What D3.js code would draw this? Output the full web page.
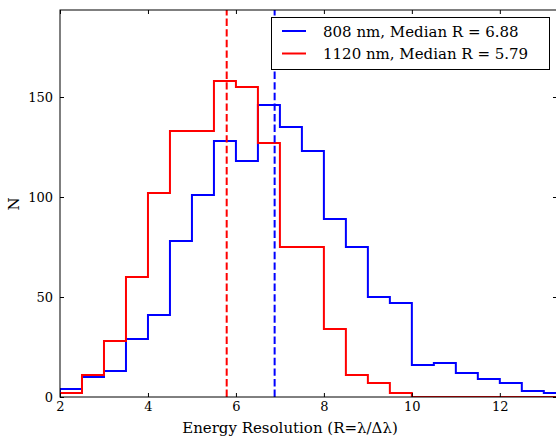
<!DOCTYPE html>
<html><head><meta charset="utf-8">
<script src="https://cdn.jsdelivr.net/npm/d3@7"></script>
<style>
body{margin:0;background:#fff;}
text{font-family:"DejaVu Serif",serif;fill:#000;}
</style></head>
<body><svg id="c" width="556" height="438"></svg>
<script>
const binEdges = [2,2.5,3,3.5,4,4.5,5,5.5,6,6.5,7,7.5,8,8.5,9,9.5,10,10.5,11,11.5,12,12.5,13,13.5];
const counts808  = [4,10,13,29,41,78,101,128,118,146,135,123,89,75,50,47,16,17,12,9,7,3,2];
const counts1120 = [2,11,28,60,102,133,133,158,155,127,75,75,34,11,7,2,0,0,0,0,0,0,0];
const medians = [6.88, 5.79];
const seriesNames = ["808 nm, Median R = 6.88", "1120 nm, Median R = 5.79"];
const colors = ["#0000ff", "#ff0000"];
const xTicks = [2,4,6,8,10,12];
const yTicks = [0,50,100,150];

const svg = d3.select("#c");
const L = 60, R = 557, T = 10, B = 397;
const x = d3.scaleLinear().domain([2, 13.3]).range([L, R]);
const y = d3.scaleLinear().domain([0, 193.5]).range([B, T]);

svg.append("defs").append("clipPath").attr("id","clip")
  .append("rect").attr("x",L).attr("y",T).attr("width",R-L).attr("height",B-T);

function stepPoints(vals){
  const pts = [[binEdges[0],0]];
  vals.forEach((v,i)=>{ pts.push([binEdges[i],v]); pts.push([binEdges[i+1],v]); });
  pts.push([binEdges[vals.length],0]);
  return pts;
}
const line = d3.line().x(d=>x(d[0])).y(d=>y(d[1]));
const g = svg.append("g").attr("clip-path","url(#clip)");
[counts808, counts1120].forEach((vals,i)=>{
  g.append("path").attr("d", line(stepPoints(vals)))
   .attr("fill","none").attr("stroke",colors[i]).attr("stroke-width",2)
   .attr("stroke-linejoin","miter").attr("stroke-linecap","butt");
});
[medians[1], medians[0]].forEach((m,k)=>{
  const c = k===0 ? colors[1] : colors[0];
  g.append("line").attr("x1",x(m)).attr("x2",x(m)).attr("y1",B).attr("y2",T)
   .attr("stroke",c).attr("stroke-width",2).attr("stroke-dasharray","7.4,3.2");
});

// axes
const ax = svg.append("g").attr("transform",`translate(0,${B})`)
  .call(d3.axisBottom(x).tickValues(xTicks).tickSize(-4).tickPadding(5).tickFormat(d3.format("d")));
const ay = svg.append("g").attr("transform",`translate(${L},0)`)
  .call(d3.axisLeft(y).tickValues(yTicks).tickSize(-4).tickPadding(7).tickFormat(d3.format("d")));
const at = svg.append("g").attr("transform",`translate(0,${T})`)
  .call(d3.axisTop(x).tickValues(xTicks).tickSize(-4).tickFormat(""));
const ar = svg.append("g").attr("transform",`translate(${R},0)`)
  .call(d3.axisRight(y).tickValues(yTicks).tickSize(-4).tickFormat(""));
[ax,ay,at,ar].forEach(a=>{
  a.select(".domain").remove();
  a.selectAll(".tick line").attr("stroke","#000").attr("stroke-width",1);
  a.selectAll("text").attr("font-family","DejaVu Serif").attr("font-size",13).attr("fill","#222");
});
svg.append("rect").attr("x",L).attr("y",T).attr("width",R-L).attr("height",B-T)
  .attr("fill","none").attr("stroke","#000").attr("stroke-width",1);

// labels
svg.append("text").attr("x",290).attr("y",433).attr("text-anchor","middle")
  .attr("font-size",15).text("Energy Resolution (R=\u03BB/\u0394\u03BB)");
svg.append("text").attr("transform","translate(19,204) rotate(-90)").attr("text-anchor","middle")
  .attr("font-size",15).text("N");

// legend
const lg = svg.append("g");
lg.append("rect").attr("x",271.5).attr("y",17.5).attr("width",278).attr("height",52)
  .attr("fill","#fff").attr("stroke","#000").attr("stroke-width",1);
seriesNames.forEach((s,i)=>{
  const yy = 31 + i*22.5;
  lg.append("line").attr("x1",282).attr("x2",306).attr("y1",yy).attr("y2",yy)
    .attr("stroke",colors[i]).attr("stroke-width",2);
  lg.append("text").attr("x",323).attr("y",yy+5.5).attr("font-size",15).text(s);
});
</script></body></html>
